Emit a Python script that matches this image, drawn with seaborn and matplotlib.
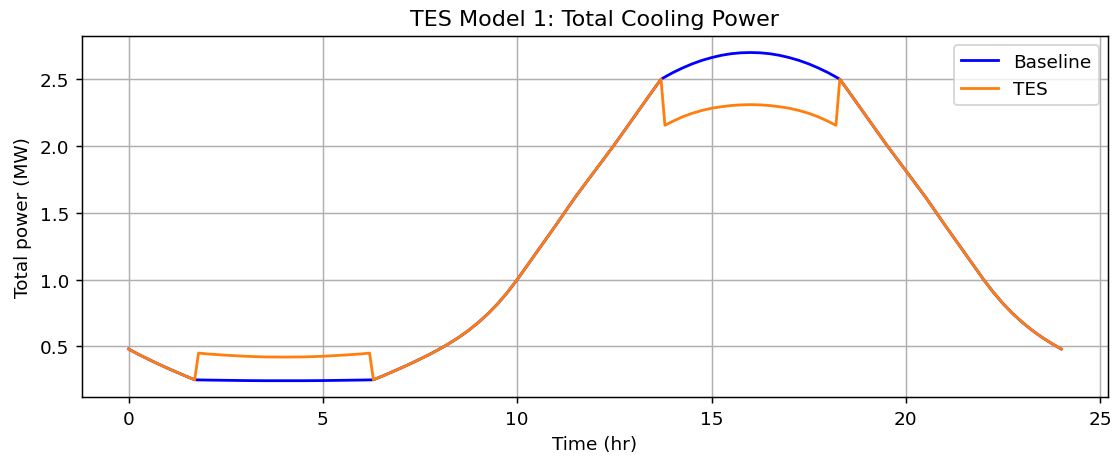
import matplotlib
matplotlib.use("Agg")
import matplotlib.pyplot as plt
import pandas as pd
import seaborn as sns

# Time of day (hr)
hours = [0.0, 0.25, 0.5, 0.75, 1.0, 1.25, 1.5, 1.7, 1.8, 2.0, 2.5, 3.0, 3.5,
         4.0, 4.5, 5.0, 5.5, 6.0, 6.2, 6.3, 6.5, 6.75, 7.0, 7.25, 7.5, 7.75,
         8.0, 8.25, 8.5, 8.75, 9.0, 9.25, 9.5, 9.75, 10.0, 10.5, 11.0, 11.5,
         12.0, 12.5, 13.0, 13.5, 13.7, 13.8, 14.0, 14.25, 14.5, 14.75, 15.0,
         15.25, 15.5, 15.75, 16.0, 16.25, 16.5, 16.75, 17.0, 17.25, 17.5,
         17.75, 18.0, 18.2, 18.3, 18.5, 19.0, 19.5, 20.0, 20.5, 21.0, 21.5,
         22.0, 22.25, 22.5, 22.75, 23.0, 23.25, 23.5, 23.75, 24.0]

# Total cooling power without storage (MW)
baseline = [0.480, 0.441, 0.405, 0.370, 0.337, 0.305, 0.274, 0.250, 0.249,
            0.248, 0.246, 0.244, 0.243, 0.243, 0.243, 0.244, 0.246, 0.248,
            0.249, 0.250, 0.274, 0.305, 0.337, 0.370, 0.405, 0.441, 0.480,
            0.522, 0.568, 0.620, 0.679, 0.745, 0.820, 0.905, 1.000, 1.205,
            1.410, 1.620, 1.815, 2.010, 2.215, 2.420, 2.500, 2.517, 2.549,
            2.584, 2.615, 2.641, 2.662, 2.679, 2.691, 2.698, 2.700, 2.698,
            2.691, 2.679, 2.662, 2.641, 2.615, 2.584, 2.549, 2.517, 2.500,
            2.420, 2.215, 2.010, 1.815, 1.620, 1.410, 1.205, 1.000, 0.905,
            0.820, 0.745, 0.679, 0.620, 0.568, 0.522, 0.480]

# Total cooling power with thermal energy storage (MW):
# charging overnight, discharging during the afternoon peak
tes = [0.480, 0.441, 0.405, 0.370, 0.337, 0.305, 0.274, 0.250, 0.450,
       0.444, 0.434, 0.426, 0.421, 0.420, 0.421, 0.426, 0.434, 0.444,
       0.450, 0.250, 0.274, 0.305, 0.337, 0.370, 0.405, 0.441, 0.480,
       0.522, 0.568, 0.620, 0.679, 0.745, 0.820, 0.905, 1.000, 1.205,
       1.410, 1.620, 1.815, 2.010, 2.215, 2.420, 2.500, 2.155, 2.185,
       2.218, 2.245, 2.266, 2.283, 2.294, 2.303, 2.308, 2.310, 2.308,
       2.303, 2.294, 2.283, 2.266, 2.245, 2.218, 2.185, 2.155, 2.500,
       2.420, 2.215, 2.010, 1.815, 1.620, 1.410, 1.205, 1.000, 0.905,
       0.820, 0.745, 0.679, 0.620, 0.568, 0.522, 0.480]

df = pd.DataFrame({"hours": hours, "Baseline": baseline, "TES": tes})

fig, ax = plt.subplots(figsize=(8.3625, 3.48), dpi=133.333)
fig.subplots_adjust(left=0.0735, right=0.9937, bottom=0.142, top=0.920)

sns.lineplot(data=df, x="hours", y="Baseline", color="blue", linewidth=1.5,
             label="Baseline", ax=ax)
sns.lineplot(data=df, x="hours", y="TES", color="#ff7f0e", linewidth=1.5,
             label="TES", ax=ax)

ax.set_title("TES Model 1: Total Cooling Power")
ax.set_xlabel("Time (hr)")
ax.set_ylabel("Total power (MW)")
ax.grid(True)
ax.legend(loc="upper right")

fig.savefig("out.png", dpi=133.333)
